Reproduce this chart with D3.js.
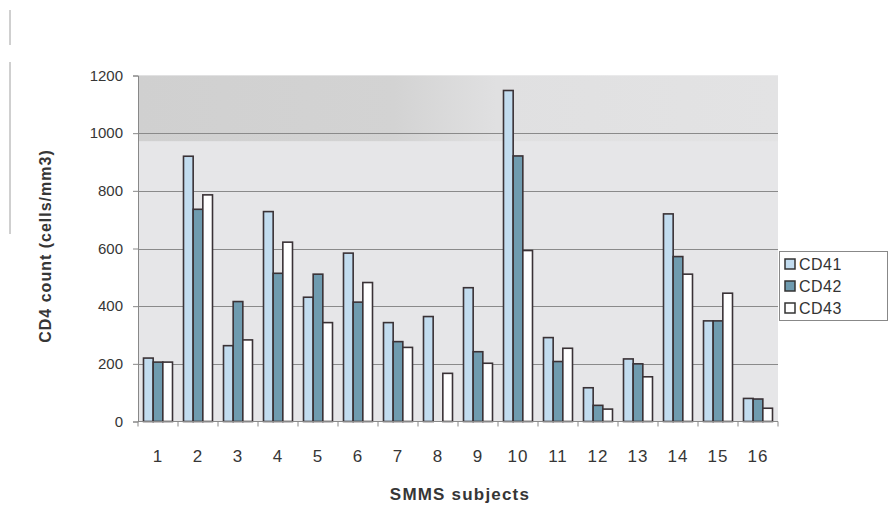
<!DOCTYPE html>
<html>
<head>
<meta charset="utf-8">
<script src="https://cdn.jsdelivr.net/npm/d3@7/dist/d3.min.js"></script>
<style>
  html, body { margin: 0; padding: 0; background: #ffffff; }
  svg { display: block; }
  text { font-family: "Liberation Sans", Arial, sans-serif; }
</style>
</head>
<body>
<svg id="chart" width="889" height="524"></svg>
<script>
// CD4 counts per subject for the three measurements
const subjects = ["1","2","3","4","5","6","7","8","9","10","11","12","13","14","15","16"];
const seriesNames = ["CD41", "CD42", "CD43"];
const cd41 = [220, 920, 263, 728, 431, 584, 343, 364, 464, 1148, 291, 117, 217, 720, 349, 80];
const cd42 = [206, 736, 416, 514, 511, 414, 277, null, 242, 921, 208, 56, 200, 572, 349, 78];
const cd43 = [206, 786, 283, 622, 343, 482, 257, 167, 202, 593, 254, 43, 155, 511, 445, 46];
const yTicks = [0, 200, 400, 600, 800, 1000, 1200];

const seriesValues = [cd41, cd42, cd43];
const fills = ["#c2dcef", "#6f9baf", "#ffffff"];
const textColor = "#363636";

const svg = d3.select("#chart");
const plotLeft = 138, plotRight = 778, plotTop = 75.5, plotBottom = 421.5;

const x = d3.scaleBand().domain(subjects).range([plotLeft, plotRight])
  .paddingInner(0.275).paddingOuter(0.1375);
const xs = d3.scaleBand().domain(seriesNames).range([0, x.bandwidth()]);
const y = d3.scaleLinear().domain([0, 1200]).range([plotBottom, plotTop]);

// page margin rules at the far left
svg.append("line").attr("x1", 10).attr("x2", 10).attr("y1", 10).attr("y2", 45)
  .attr("stroke", "#a0a0a0").attr("stroke-width", 1);
svg.append("line").attr("x1", 10).attr("x2", 10).attr("y1", 62).attr("y2", 234)
  .attr("stroke", "#a0a0a0").attr("stroke-width", 1);

// plot background, darker towards the upper left
svg.append("rect").attr("x", plotLeft).attr("y", plotTop).attr("width", plotRight - plotLeft)
  .attr("height", plotBottom - plotTop).attr("fill", "#e6e6e8");
const defs = svg.append("defs");
const grad = defs.append("linearGradient").attr("id", "shade")
  .attr("x1", 0).attr("x2", 1).attr("y1", 0).attr("y2", 0);
grad.append("stop").attr("offset", 0).attr("stop-color", "#d0d0d0");
grad.append("stop").attr("offset", 0.4).attr("stop-color", "#d3d3d3");
grad.append("stop").attr("offset", 0.56).attr("stop-color", "#e0e0e1");
grad.append("stop").attr("offset", 1).attr("stop-color", "#e3e3e4");
svg.append("rect").attr("x", plotLeft).attr("y", plotTop).attr("width", plotRight - plotLeft)
  .attr("height", y(1000) - plotTop + 8).attr("fill", "url(#shade)");

// gridlines
svg.append("g").selectAll("line").data(yTicks.filter(d => d > 0 && d < 1200)).join("line")
  .attr("x1", plotLeft).attr("x2", plotRight)
  .attr("y1", d => Math.round(y(d)) + 0.5).attr("y2", d => Math.round(y(d)) + 0.5)
  .attr("stroke", "#8a8a8a").attr("stroke-width", 1.2);

// bars
const groups = svg.append("g").selectAll("g").data(subjects).join("g")
  .attr("transform", d => `translate(${x(d)},0)`);
groups.selectAll("rect")
  .data((d, i) => seriesNames.map((s, k) => ({ s, k, v: seriesValues[k][i] })).filter(e => e.v != null))
  .join("rect")
  .attr("x", e => xs(e.s))
  .attr("width", xs.bandwidth())
  .attr("y", e => y(e.v))
  .attr("height", e => y(0) - y(e.v))
  .attr("fill", e => fills[e.k])
  .attr("stroke", "#3a3236")
  .attr("stroke-width", 1.6);

// y axis
const yAxis = svg.append("g").attr("transform", `translate(${plotLeft},0)`)
  .call(d3.axisLeft(y).tickValues(yTicks).tickFormat(d3.format("d")).tickSize(5).tickPadding(10));
yAxis.select(".domain").attr("stroke", "#888");
yAxis.selectAll(".tick line").attr("stroke", "#888");
yAxis.selectAll(".tick text").attr("font-size", 15).attr("fill", textColor)
  .attr("font-family", "'Liberation Sans', Arial, sans-serif");

// x axis with ticks at category boundaries
const xAxisG = svg.append("g").attr("transform", `translate(0,${plotBottom})`);
xAxisG.append("line").attr("x1", plotLeft).attr("x2", plotRight).attr("y1", 0).attr("y2", 0)
  .attr("stroke", "#888").attr("stroke-width", 1.2);
const step = x.step();
xAxisG.selectAll("line.tk").data(d3.range(subjects.length + 1)).join("line")
  .attr("class", "tk")
  .attr("x1", i => plotLeft + i * step).attr("x2", i => plotLeft + i * step)
  .attr("y1", 0).attr("y2", 5).attr("stroke", "#888");
xAxisG.selectAll("text").data(subjects).join("text")
  .attr("x", d => x(d) + x.bandwidth() / 2)
  .attr("y", 40)
  .attr("text-anchor", "middle")
  .attr("font-size", 17).attr("letter-spacing", 1).attr("fill", textColor)
  .text(d => d);

// axis titles
svg.append("text")
  .attr("transform", `translate(51,246) rotate(-90)`)
  .attr("text-anchor", "middle").attr("font-size", 16).attr("font-weight", "bold")
  .attr("letter-spacing", 1).attr("fill", textColor).text("CD4 count (cells/mm3)");
svg.append("text")
  .attr("x", 460).attr("y", 500).attr("text-anchor", "middle")
  .attr("font-size", 17).attr("font-weight", "bold").attr("letter-spacing", 1.2)
  .attr("fill", textColor)
  .text("SMMS subjects");

// legend
const lg = svg.append("g").attr("transform", "translate(779,251)");
lg.append("rect").attr("x", 0.5).attr("y", 0.5).attr("width", 108).attr("height", 69)
  .attr("fill", "#ffffff").attr("stroke", "#888");
const items = lg.selectAll("g").data(seriesNames).join("g")
  .attr("transform", (d, i) => `translate(6,${13 + i * 22})`);
items.append("rect").attr("x", 0).attr("y", -5).attr("width", 10).attr("height", 10)
  .attr("fill", (d, i) => fills[i]).attr("stroke", "#333").attr("stroke-width", 1.5);
items.append("text").attr("x", 14).attr("y", 6).attr("font-size", 16)
  .attr("letter-spacing", 0.5).attr("fill", "#333").text(d => d);
</script>
</body>
</html>
